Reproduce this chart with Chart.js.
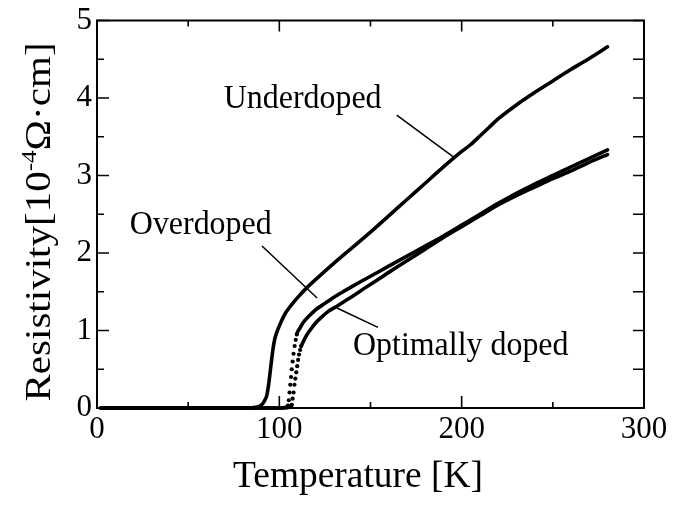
<!DOCTYPE html>
<html><head><meta charset="utf-8">
<script src="https://cdn.jsdelivr.net/npm/chart.js@4.4.0/dist/chart.umd.min.js"></script>
<style>html,body{margin:0;padding:0;background:#fff}</style>
</head><body>
<canvas id="c" width="691" height="505"></canvas>
<script>
// ---- data (Temperature [K], Resistivity [10^-4 Ohm cm]) ----
const underdopedT = [2,10,20,30,40,50,60,70,80,86,89,91,92,93,94,94.9,95.8,96.7,97.6,98.5,100,101.3,103,105,108,111,115,120,130,140,150,160,170,180,190,200,205,210,215,220,230,240,250,260,270,280];
const underdopedR = [0,0,0,0,0,0,0,0,0,0.005,0.02,0.06,0.1,0.15,0.28,0.45,0.63,0.79,0.9,0.97,1.06,1.13,1.21,1.28,1.37,1.45,1.55,1.66,1.87,2.07,2.27,2.48,2.69,2.90,3.11,3.31,3.40,3.51,3.62,3.73,3.91,4.07,4.22,4.37,4.51,4.66];

const overdopedT = [2,10,20,30,40,50,60,70,80,90,100,103,104.8,105.2,105.6,106,106.4,106.8,107.3,107.8,108.4,109,109.6,110.2,111.3,113,116,120,125,130,135,140,150,160,170,180,190,200,210,220,230,240,250,260,270,280];
const overdopedR = [0,0,0,0,0,0,0,0,0,0,0,0.005,0.03,0.1,0.2,0.3,0.4,0.5,0.6,0.7,0.8,0.88,0.95,0.99,1.03,1.10,1.18,1.27,1.35,1.43,1.50,1.57,1.70,1.83,1.96,2.09,2.22,2.36,2.50,2.64,2.77,2.89,3.00,3.11,3.22,3.33];

const optimalT = [2,10,20,30,40,50,60,70,80,90,100,105,106.8,107.3,107.8,108.3,108.8,109.3,109.8,110.3,110.8,111.4,112,113,115,117,120,123,127,132,140,147,155,160,170,180,190,200,210,220,230,240,250,260,270,280];
const optimalR = [0,0,0,0,0,0,0,0,0,0,0,0.005,0.04,0.12,0.2,0.3,0.38,0.46,0.54,0.62,0.69,0.75,0.8,0.85,0.94,1.01,1.10,1.17,1.25,1.32,1.44,1.55,1.67,1.75,1.90,2.05,2.20,2.34,2.48,2.62,2.74,2.85,2.96,3.06,3.17,3.27];

// temperature windows measured as isolated points (drawn as dots)
const overdopedDotRange = [104.8, 109.6];
const optimalDotRange = [106.8, 112];

const xTicks = [0, 100, 200, 300];
const yTicks = [0, 1, 2, 3, 4, 5];

const labels = [
  {text: 'Underdoped',      x: 69.5,  y: 3.87, from: [164.4, 3.78], to: [195.4, 3.24]},
  {text: 'Overdoped',       x: 18.0,  y: 2.24, from: [90.5, 2.09],  to: [120.7, 1.42]},
  {text: 'Optimally doped', x: 140.4, y: 0.68, from: [154.1, 1.04], to: [131.6, 1.29]}
];

const SERIF = '"Liberation Serif", "Times New Roman", serif';
const pts = (t, r) => t.map((v, i) => ({x: v, y: r[i]}));
const inR = (v, r) => v >= r[0] - 1e-9 && v <= r[1] + 1e-9;

function ds(t, r, range) {
  return {
    data: pts(t, r),
    borderColor: '#000', backgroundColor: '#000',
    borderWidth: 3.6, borderCapStyle: 'round', borderJoinStyle: 'round',
    tension: 0.2, clip: false,
    pointRadius: range ? (c => inR(c.raw.x, range) ? 2.1 : 0) : 0,
    pointBorderWidth: 0, pointHoverRadius: 0,
    segment: range ? {borderColor: c => (inR(c.p0.parsed.x, range) && inR(c.p1.parsed.x, range)) ? 'rgba(0,0,0,0)' : undefined} : undefined
  };
}

const deco = {
  id: 'deco',
  afterDraw(chart) {
    const {ctx, chartArea: a, scales: {x, y}} = chart;
    ctx.save();
    ctx.strokeStyle = '#000';
    ctx.lineWidth = 2;
    ctx.strokeRect(a.left, a.top, a.right - a.left, a.bottom - a.top);
    ctx.lineWidth = 1.6;
    ctx.beginPath();
    for (let v = 0; v <= 300; v += 50) {
      const px = x.getPixelForValue(v), maj = v % 100 === 0;
      ctx.moveTo(px, a.bottom); ctx.lineTo(px, a.bottom - (maj ? 12 : 6));
      ctx.moveTo(px, a.top); ctx.lineTo(px, a.top + (maj ? 11 : 6));
    }
    for (let v = 0; v <= 5.0001; v += 0.5) {
      const py = y.getPixelForValue(v), maj = Math.abs(v - Math.round(v)) < 1e-6;
      ctx.moveTo(a.left, py); ctx.lineTo(a.left + (maj ? 12 : 7), py);
      ctx.moveTo(a.right, py); ctx.lineTo(a.right - 11, py);
    }
    ctx.stroke();
    ctx.fillStyle = '#000';
    ctx.textBaseline = 'alphabetic';
    ctx.textAlign = 'left';
    ctx.lineWidth = 1.5;
    labels.forEach(l => {
      const lx = x.getPixelForValue(l.x), ly = y.getPixelForValue(l.y);
      ctx.save();
      ctx.font = '31px ' + SERIF;
      ctx.translate(lx, ly); ctx.scale(1.03, 1.06);
      ctx.fillText(l.text, 0, 0);
      ctx.restore();
      ctx.beginPath();
      ctx.moveTo(x.getPixelForValue(l.from[0]), y.getPixelForValue(l.from[1]));
      ctx.lineTo(x.getPixelForValue(l.to[0]), y.getPixelForValue(l.to[1]));
      ctx.stroke();
    });
    // x-axis title
    ctx.save();
    ctx.font = '36px ' + SERIF;
    ctx.textAlign = 'center';
    ctx.translate(358, 487); ctx.scale(1.04, 1.05);
    ctx.fillText('Temperature [K]', 0, 0);
    ctx.restore();
    // y-axis title with superscript, stretched along its length
    ctx.save();
    ctx.translate(50, 222);
    ctx.rotate(-Math.PI / 2);
    ctx.scale(1.14, 1);
    const big = '36px ' + SERIF, small = '22px ' + SERIF;
    const p1 = 'Resistivity[10', sup = '-4', p2 = '\u03A9\u00B7cm]';
    ctx.font = big; const w1 = ctx.measureText(p1).width, w3 = ctx.measureText(p2).width;
    ctx.font = small; const w2 = ctx.measureText(sup).width;
    let sx = -(w1 + w2 + w3) / 2;
    ctx.textAlign = 'left';
    ctx.font = big; ctx.fillText(p1, sx, 0); sx += w1;
    ctx.font = small; ctx.fillText(sup, sx, -14); sx += w2;
    ctx.font = big; ctx.fillText(p2, sx, 0);
    ctx.restore();
    ctx.restore();
  }
};

new Chart(document.getElementById('c'), {
  type: 'line',
  data: {datasets: [
    ds(underdopedT, underdopedR, null),
    ds(overdopedT, overdopedR, overdopedDotRange),
    ds(optimalT, optimalR, optimalDotRange)
  ]},
  options: {
    responsive: false, animation: false, devicePixelRatio: 1,
    layout: {padding: {left: 0, right: 47, top: 18, bottom: 0}},
    plugins: {legend: {display: false}, tooltip: {enabled: false}},
    scales: {
      x: {type: 'linear', min: 0, max: 300,
        afterBuildTicks: s => { s.ticks = xTicks.map(v => ({value: v})); },
        afterFit: s => { s.height = 97; },
        grid: {display: false, drawTicks: false}, border: {display: false},
        ticks: {font: {family: SERIF, size: 31, lineHeight: 1.0}, color: '#000', padding: 6, maxRotation: 0}},
      y: {type: 'linear', min: 0, max: 5,
        afterBuildTicks: s => { s.ticks = yTicks.map(v => ({value: v})); },
        afterFit: s => { s.width = 97; },
        grid: {display: false, drawTicks: false}, border: {display: false},
        ticks: {font: {family: SERIF, size: 31, lineHeight: 1.0}, color: '#000', padding: 5}}
    }
  },
  plugins: [deco]
});
</script>
</body></html>
